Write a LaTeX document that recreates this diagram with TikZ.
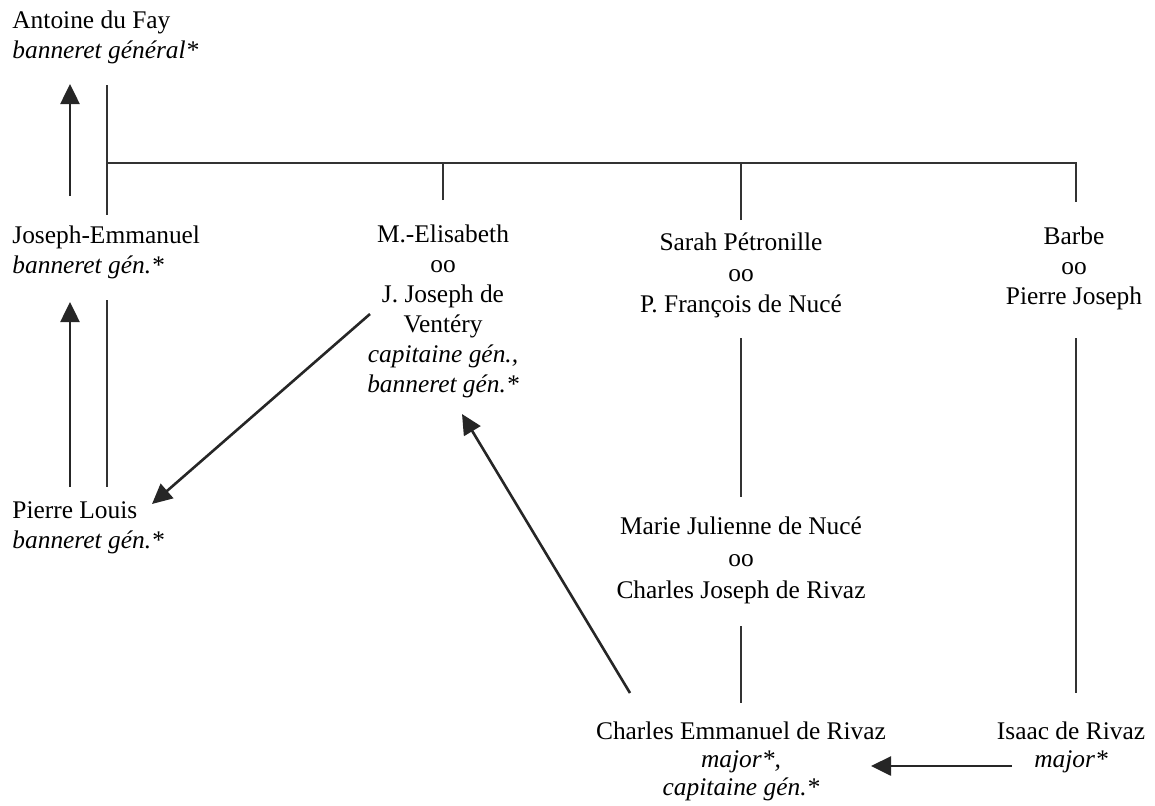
\documentclass[tikz,border=0pt]{standalone}
\usepackage{fontspec}
\setmainfont{Liberation Serif}
\usetikzlibrary{arrows.meta}
\begin{document}
\begin{tikzpicture}[x=0.5pt,y=-0.5pt,
	person/.style={inner sep=0pt,anchor=base,align=center,font=\fontsize{12.7}{15}\selectfont},
	kin/.style={line width=0.6pt,black!80},
	office/.style={line width=1.3pt,black!85,-{Triangle[length=10pt,width=9.5pt]}}]
	\useasboundingbox (0,0) rectangle (1155,805);
	% people (anchored at the baseline of their last line)
	\node[person,anchor=base west,align=left] (fay) at (12,58) {Antoine du Fay\\\textit{banneret général*}};
	\node[person,anchor=base west,align=left] (josemm) at (12,273) {Joseph-Emmanuel\\\textit{banneret gén.*}};
	\node[person,anchor=base west,align=left] (louis) at (12,548) {Pierre Louis\\\textit{banneret gén.*}};
	\node[person] (elisabeth) at (443,392) {M.-Elisabeth\\oo\\J. Joseph de\\Ventéry\\\textit{capitaine gén.,}\\\textit{banneret gén.*}};
	\node[person,font=\fontsize{12.7}{15.5}\selectfont] (sarah) at (741,312) {Sarah Pétronille\\oo\\P. François de Nucé};
	\node[person] (barbe) at (1074,304) {Barbe\\oo\\Pierre Joseph};
	\node[person,font=\fontsize{12.7}{16}\selectfont] (julienne) at (741,598) {Marie Julienne de Nucé\\oo\\Charles Joseph de Rivaz};
	\node[person,font=\fontsize{12.7}{14}\selectfont] (charles) at (741,795) {Charles Emmanuel de Rivaz\\\textit{major*,}\\\textit{capitaine gén.*}};
	\node[person,font=\fontsize{12.7}{14}\selectfont] (isaac) at (1071,767) {Isaac de Rivaz\\\textit{major*}};
	% descent lines
	\coordinate (fay-d) at (107,85);
	\coordinate (bar-l) at (107,163);
	\coordinate (bar-r) at (1076,163);
	\coordinate (josemm-u) at (107,215);
	\coordinate (josemm-d) at (107,300);
	\coordinate (louis-u) at (107,487);
	\coordinate (elisabeth-u) at (443,200);
	\coordinate (sarah-u) at (741,220);
	\coordinate (sarah-d) at (741,338);
	\coordinate (julienne-u) at (741,497);
	\coordinate (julienne-d) at (741,626);
	\coordinate (charles-u) at (741,703);
	\coordinate (barbe-u) at (1076,202);
	\coordinate (barbe-d) at (1076,338);
	\coordinate (isaac-u) at (1076,693);
	\draw[kin] (fay-d) -- (josemm-u);
	\draw[kin] (bar-l) -- (bar-r) -- (barbe-u);
	\draw[kin] (elisabeth-u) -- (elisabeth-u |- bar-l);
	\draw[kin] (sarah-u) -- (sarah-u |- bar-l);
	\draw[kin] (josemm-d) -- (louis-u);
	\draw[kin] (sarah-d) -- (julienne-u);
	\draw[kin] (julienne-d) -- (charles-u);
	\draw[kin] (barbe-d) -- (isaac-u);
	% succession of offices
	\draw[office] (70,196) -- (70,84);
	\draw[office] (70,487) -- (70,302);
	\draw[office] (370,314) -- (152,504);
	\draw[office] (630,693) -- (462,414);
	\draw[office] (1012,766) -- (871,766);
\end{tikzpicture}
\end{document}
